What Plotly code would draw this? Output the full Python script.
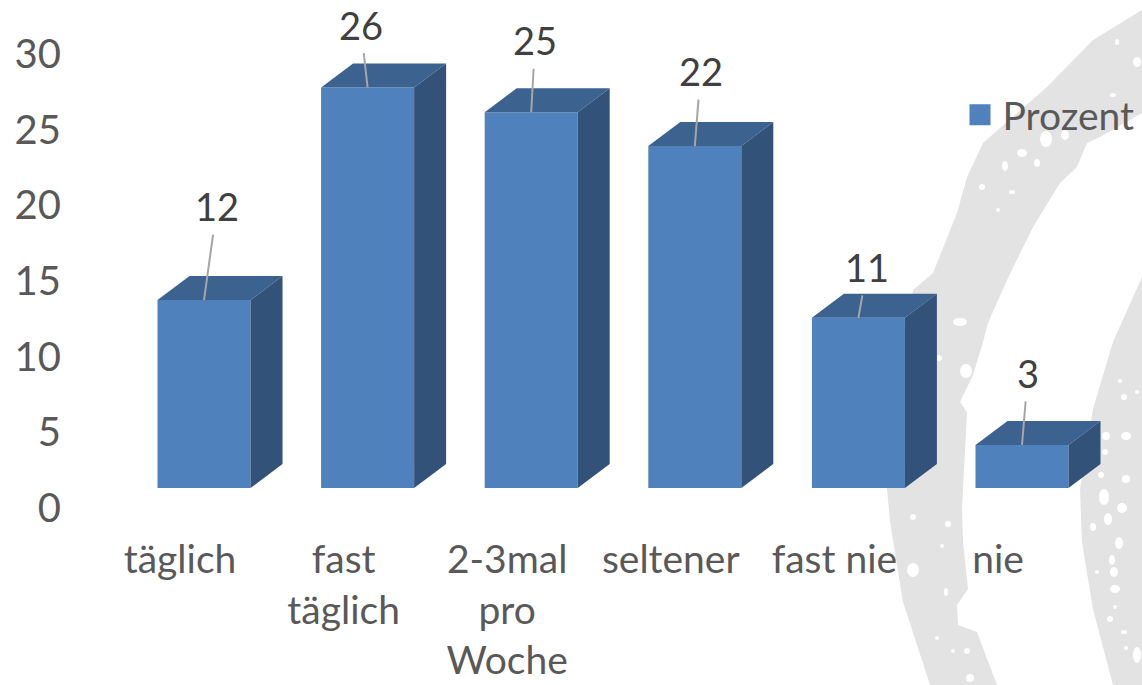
import plotly.graph_objects as go

# ---- data ----
categories = ["täglich", "fast<br>täglich", "2-3mal<br>pro<br>Woche", "seltener", "fast nie", "nie"]
heights = [12.2, 26.0, 24.4, 22.2, 11.05, 2.8]   # front face height
value_labels = ["12", "26", "25", "22", "11", "3"]
label_dx = [13, -7, 4, 6, 9, 6]
label_dy = [-94, -63, -72, -75, -51, -72]
y_ticks = [0, 5, 10, 15, 20, 25, 30]
series_name = "Prozent"

# ---- page geometry ----
W, H = 1142, 685
ml, mb = 62, 165
PW, PH = W - ml, H - mb
step = 163.6
tick_c0, bar_c0 = 180.0, 204.0     # pixel centres of first tick label / first bar
y_zero, y_scale = 508.0, 15.13     # visible axis
b_zero, b_scale = 488.0, 15.4      # bar plane
bar_w = 93 / step
dx, dy = 32 / step, 24 / b_scale

FRONT, TOP, SIDE = "#4F81BD", "#3C6290", "#32527A"
TXT, LBL = "#595959", "#404040"
FONT = "Lato, Carlito, sans-serif"
FS = 40

xs = list(range(len(categories)))
fig = go.Figure()

fig.add_trace(go.Bar(x=xs, y=heights, width=bar_w, marker=dict(color=FRONT, line=dict(width=0)),
                     xaxis="x2", yaxis="y2", showlegend=False, hoverinfo="y"))
for i, h in zip(xs, heights):
    l, r = i - bar_w / 2, i + bar_w / 2
    fig.add_trace(go.Scatter(x=[l, r, r + dx, l + dx, l], y=[h, h, h + dy, h + dy, h], mode="lines",
                             fill="toself", fillcolor=TOP, line=dict(width=0), xaxis="x2", yaxis="y2",
                             showlegend=False, hoverinfo="skip"))
    fig.add_trace(go.Scatter(x=[r, r + dx, r + dx, r, r], y=[0, dy, h + dy, h, 0], mode="lines",
                             fill="toself", fillcolor=SIDE, line=dict(width=0), xaxis="x2", yaxis="y2",
                             showlegend=False, hoverinfo="skip"))

# axis carrier + legend entry
fig.add_trace(go.Scatter(x=[None], y=[None], mode="markers", name=series_name,
                         marker=dict(symbol="square", size=16, color=FRONT, line=dict(color=FRONT, width=5))))

for i, h, t, ax, ay in zip(xs, heights, value_labels, label_dx, label_dy):
    fig.add_annotation(x=i, y=h, xref="x2", yref="y2", text=t, showarrow=True, arrowhead=0,
                       arrowwidth=2, arrowcolor="#A6A6A6", ax=ax, ay=ay, axref="pixel", ayref="pixel",
                       font=dict(family=FONT, size=38, color=LBL), borderpad=5)

# ---- decorative background (pixel outlines) ----
def px(p):
    return (p[0] - ml) / PW, (PH - p[1]) / PH

def poly(points):
    c = [px(p) for p in points]
    return "M" + " L".join(f"{a:.4f},{b:.4f}" for a, b in c) + " Z"

BG = "#E3E3E3"
band1 = [(1142, 10), (1093, 40), (1047, 87), (983, 143), (967, 177), (957, 213), (933, 273), (913, 290),
         (895, 370), (887, 489), (890, 522), (903, 602), (930, 685), (997, 685), (977, 632), (958, 625),
         (957, 605), (968, 589), (963, 542), (962, 509), (967, 412), (960, 402), (973, 375), (983, 342),
         (988, 323), (1007, 280), (1033, 227), (1060, 183), (1077, 167), (1087, 143), (1100, 137), (1142, 113)]
band2 = [(1142, 277), (1113, 342), (1093, 409), (1080, 489), (1082, 542), (1093, 609), (1113, 685), (1142, 685)]
for b in (band1, band2):
    fig.add_shape(type="path", xref="paper", yref="paper", path=poly(b), fillcolor=BG, line=dict(width=0), layer="below")

specks = [(1117, 42, 2, 3), (1137, 62, 4, 5), (1113, 95, 3, 2), (1046, 139, 6, 8), (1065, 135, 4, 5), (1022, 153, 5, 4),
          (1005, 166, 3, 5), (1037, 163, 3, 4), (982, 187, 3, 3), (1012, 192, 3, 2), (998, 210, 2, 2), (960, 322, 7, 4),
          (966, 371, 6, 7), (939, 358, 3, 3), (913, 517, 3, 3), (948, 524, 3, 3), (942, 546, 2, 2), (913, 570, 6, 7),
          (946, 592, 2, 4), (937, 638, 2, 2), (953, 651, 2, 2), (967, 651, 3, 3), (970, 678, 4, 4), (1120, 381, 2, 2),
          (1124, 397, 3, 3), (1137, 392, 2, 2), (1106, 436, 4, 4), (1126, 436, 5, 4), (1105, 452, 3, 3), (1101, 475, 3, 3),
          (1126, 479, 4, 4), (1104, 497, 5, 8), (1122, 508, 5, 5), (1108, 519, 4, 6), (1093, 527, 3, 4), (1119, 543, 4, 6),
          (1112, 560, 3, 5), (1114, 572, 4, 5), (1115, 589, 5, 4), (1115, 607, 2, 2), (1110, 619, 3, 3), (1124, 632, 3, 2),
          (1126, 648, 2, 2), (1137, 655, 4, 8), (1097, 572, 2, 2)]
for cx, cy, rx, ry in specks:
    x0, y0 = px((cx - rx, cy + ry))
    x1, y1 = px((cx + rx, cy - ry))
    fig.add_shape(type="circle", xref="paper", yref="paper", x0=x0, y0=y0, x1=x1, y1=y1,
                  fillcolor="white", line=dict(width=0), layer="below")

def rng(c0):
    return [(ml - c0) / step, (W - c0) / step]

axis_font = dict(family=FONT, size=FS, color=TXT)
fig.update_layout(
    width=W, height=H, autosize=False,
    margin=dict(l=ml, r=0, t=0, b=mb, pad=0),
    paper_bgcolor="white", plot_bgcolor="rgba(0,0,0,0)",
    xaxis=dict(range=rng(tick_c0), tickmode="array", tickvals=xs, ticktext=categories, showgrid=False,
               zeroline=False, showline=False, ticks="", tickfont=dict(family=FONT, size=39, color=TXT),
               tickangle=0, ticklabelstandoff=13),
    xaxis2=dict(range=rng(bar_c0), overlaying="x", visible=False),
    yaxis=dict(range=[(y_zero - PH) / y_scale, y_zero / y_scale], tickmode="array", tickvals=y_ticks, showgrid=False,
               zeroline=False, showline=False, ticks="", tickfont=axis_font, ticklabelstandoff=0),
    yaxis2=dict(range=[(b_zero - PH) / b_scale, b_zero / b_scale], overlaying="y", visible=False),
    showlegend=True,
    legend=dict(x=(957.5 - ml) / PW, y=(PH - 83) / PH, xanchor="left", yanchor="top", bgcolor="rgba(0,0,0,0)",
                font=dict(family=FONT, size=39, color=TXT), itemsizing="trace", itemwidth=35),
)
fig.write_html("out.html", config=dict(displayModeBar=False),
               post_script="document.body.style.margin='0';document.body.style.overflow='hidden';")
